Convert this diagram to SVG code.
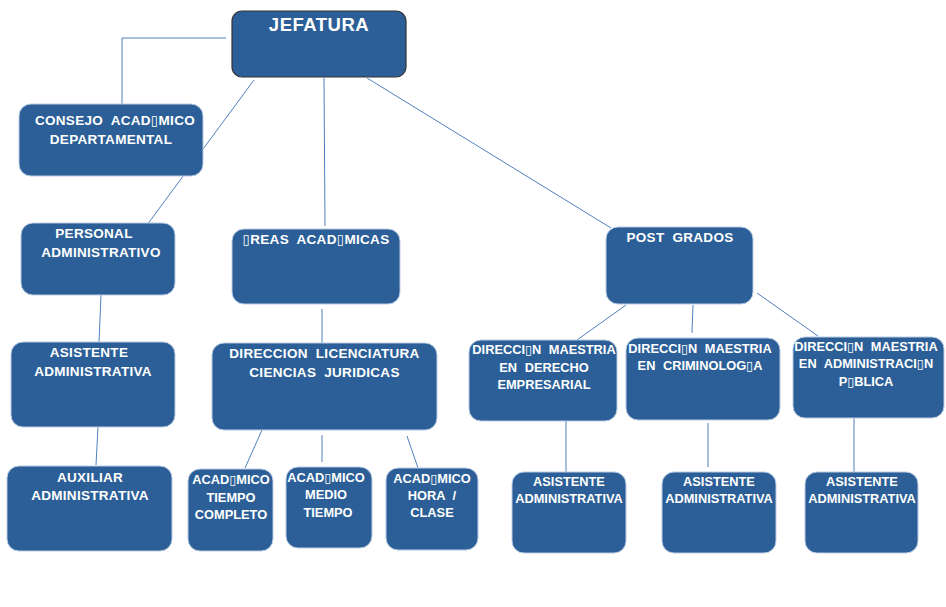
<svg xmlns="http://www.w3.org/2000/svg" width="946" height="607" viewBox="0 0 946 607">
<style>
.box{fill:#2c5f97;stroke:#b9cce3;stroke-width:1}
.top{fill:#2c5f97;stroke:#333;stroke-width:1.2}
.t{fill:#fff;font-family:"Liberation Sans","DejaVu Sans",sans-serif;font-size:13.5px;font-weight:bold;text-anchor:middle;letter-spacing:0.3px;word-spacing:4px}
.s{font-size:12.8px;letter-spacing:0}
.big{font-size:18.5px;letter-spacing:0.5px}
.c{fill:none;stroke:#4f81bd;stroke-width:1}
</style>
<rect width="946" height="607" fill="#fff"/>
<g id="connectors">
<polyline class="c" points="226,38 122,38 122,104"/>
<line class="c" x1="254" y1="80" x2="147" y2="225"/>
<line class="c" x1="324" y1="78" x2="325" y2="226"/>
<line class="c" x1="367" y1="78" x2="611" y2="228"/>
<line class="c" x1="101" y1="295" x2="99" y2="342"/>
<line class="c" x1="98" y1="427" x2="96" y2="465"/>
<line class="c" x1="322" y1="309" x2="322" y2="343"/>
<line class="c" x1="262" y1="430" x2="245" y2="468"/>
<line class="c" x1="322" y1="435" x2="322" y2="462"/>
<line class="c" x1="407" y1="436" x2="418" y2="468"/>
<line class="c" x1="626" y1="305" x2="577" y2="340"/>
<line class="c" x1="693" y1="305" x2="692" y2="333"/>
<line class="c" x1="757" y1="293" x2="818" y2="336"/>
<line class="c" x1="566" y1="421" x2="566" y2="472"/>
<line class="c" x1="708" y1="423" x2="708" y2="467"/>
<line class="c" x1="854" y1="418" x2="854" y2="472"/>
</g>
<g id="jefatura">
<rect class="top" x="232" y="11" width="174" height="66" rx="10"/>
<text class="t big" x="319" y="31">JEFATURA</text>
</g>
<g id="consejo">
<rect class="box" x="19" y="104" width="184" height="72" rx="12"/>
<text class="t" x="115" y="125">CONSEJO ACAD▯MICO</text>
<text class="t" x="111" y="144">DEPARTAMENTAL</text>
</g>
<g id="personal">
<rect class="box" x="21" y="223" width="154" height="72" rx="12"/>
<text class="t" x="94" y="238">PERSONAL</text>
<text class="t" x="101" y="257">ADMINISTRATIVO</text>
</g>
<g id="asistente-adm">
<rect class="box" x="11" y="342" width="164" height="85" rx="12"/>
<text class="t" x="89" y="357">ASISTENTE</text>
<text class="t" x="93" y="376">ADMINISTRATIVA</text>
</g>
<g id="auxiliar">
<rect class="box" x="7" y="466" width="165" height="85" rx="12"/>
<text class="t" x="90" y="482">AUXILIAR</text>
<text class="t" x="90" y="500">ADMINISTRATIVA</text>
</g>
<g id="areas">
<rect class="box" x="232" y="229" width="168" height="75" rx="12"/>
<text class="t" x="316" y="244">▯REAS ACAD▯MICAS</text>
</g>
<g id="direccion-lic">
<rect class="box" x="212" y="343" width="225" height="87" rx="12"/>
<text class="t" x="324.5" y="358">DIRECCION LICENCIATURA</text>
<text class="t" x="324.5" y="377">CIENCIAS JURIDICAS</text>
</g>
<g id="acad-completo">
<rect class="box" x="188" y="469" width="85" height="82" rx="12"/>
<text class="t s" x="231" y="484">ACAD▯MICO</text>
<text class="t s" x="231" y="502">TIEMPO</text>
<text class="t s" x="231" y="519">COMPLETO</text>
</g>
<g id="acad-medio">
<rect class="box" x="286" y="467" width="86" height="81" rx="12"/>
<text class="t s" x="326" y="482">ACAD▯MICO</text>
<text class="t s" x="326" y="499">MEDIO</text>
<text class="t s" x="328" y="517">TIEMPO</text>
</g>
<g id="acad-hora">
<rect class="box" x="386" y="468" width="92" height="82" rx="12"/>
<text class="t s" x="432" y="483">ACAD▯MICO</text>
<text class="t s" x="432" y="500">HORA /</text>
<text class="t s" x="432" y="517">CLASE</text>
</g>
<g id="post-grados">
<rect class="box" x="606" y="227" width="147" height="77" rx="12"/>
<text class="t" x="680" y="242">POST GRADOS</text>
</g>
<g id="maestria-derecho">
<rect class="box" x="469" y="340" width="148" height="81" rx="12"/>
<text class="t s" x="544" y="354">DIRECCI▯N MAESTRIA</text>
<text class="t s" x="544" y="372">EN DERECHO</text>
<text class="t s" x="544" y="389">EMPRESARIAL</text>
</g>
<g id="maestria-crim">
<rect class="box" x="626" y="338" width="154" height="82" rx="12"/>
<text class="t s" x="700" y="353">DIRECCI▯N MAESTRIA</text>
<text class="t s" x="700" y="370">EN  CRIMINOLOG▯A</text>
</g>
<g id="maestria-adm">
<rect class="box" x="793" y="337" width="151" height="81" rx="12"/>
<text class="t s" x="866" y="351">DIRECCI▯N MAESTRIA</text>
<text class="t s" x="866" y="368">EN ADMINISTRACI▯N</text>
<text class="t s" x="866" y="386">P▯BLICA</text>
</g>
<g id="asistente-1">
<rect class="box" x="512" y="472" width="114" height="81" rx="12"/>
<text class="t s" x="569" y="486">ASISTENTE</text>
<text class="t s" x="569" y="503">ADMINISTRATIVA</text>
</g>
<g id="asistente-2">
<rect class="box" x="662" y="472" width="114" height="81" rx="12"/>
<text class="t s" x="719" y="486">ASISTENTE</text>
<text class="t s" x="719" y="503">ADMINISTRATIVA</text>
</g>
<g id="asistente-3">
<rect class="box" x="805" y="472" width="113" height="81" rx="12"/>
<text class="t s" x="862" y="486">ASISTENTE</text>
<text class="t s" x="862" y="503">ADMINISTRATIVA</text>
</g>
</svg>
